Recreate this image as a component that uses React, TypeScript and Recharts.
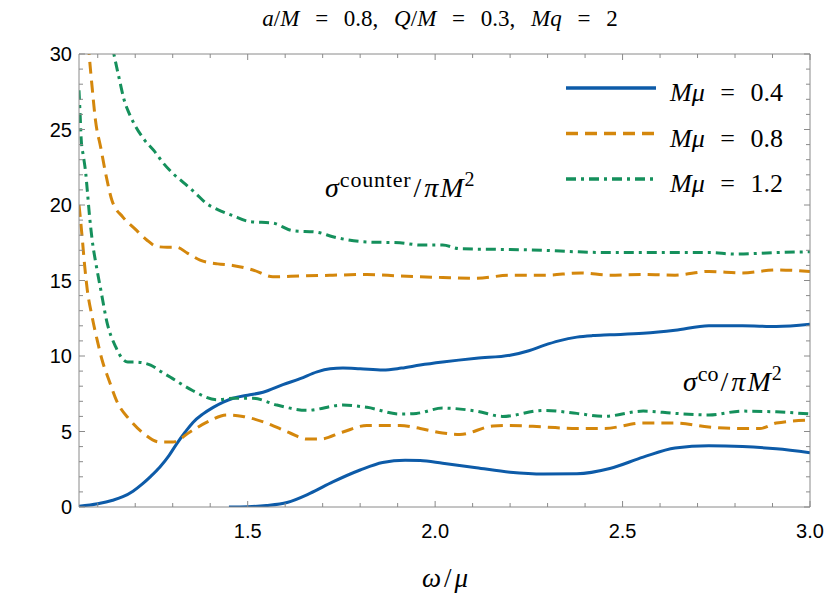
import { Line, LineChart, XAxis, YAxis } from "recharts";

// omega/mu grid and sigma/(pi M^2) values, one pair per curve
const W_COUNTER_04 = [1.05, 1.1, 1.14, 1.167, 1.194, 1.22, 1.24, 1.266, 1.29, 1.311, 1.333, 1.354, 1.38, 1.408, 1.435, 1.461, 1.5, 1.541, 1.594, 1.64, 1.685, 1.72, 1.754, 1.8, 1.861, 1.91, 1.96, 2.02, 2.11, 2.2, 2.25, 2.29, 2.33, 2.378, 2.42, 2.466, 2.555, 2.64, 2.73, 2.82, 2.91, 3.0];
const S_COUNTER_04 = [0.05, 0.22, 0.45, 0.68, 1.05, 1.55, 2.0, 2.65, 3.4, 4.2, 4.95, 5.6, 6.15, 6.6, 6.95, 7.2, 7.4, 7.6, 8.1, 8.5, 8.95, 9.15, 9.2, 9.15, 9.07, 9.2, 9.4, 9.6, 9.85, 10.05, 10.35, 10.7, 11.0, 11.25, 11.35, 11.4, 11.5, 11.7, 12.0, 12.0, 11.95, 12.1];

const W_CO_04 = [1.45, 1.5, 1.55, 1.605, 1.666, 1.727, 1.8, 1.86, 1.92, 1.96, 2.02, 2.11, 2.2, 2.29, 2.378, 2.466, 2.555, 2.64, 2.73, 2.82, 2.91, 3.0];
const S_CO_04 = [0, 0.02, 0.1, 0.3, 0.9, 1.66, 2.45, 2.95, 3.1, 3.08, 2.9, 2.6, 2.3, 2.18, 2.2, 2.55, 3.3, 3.9, 4.05, 4.0, 3.85, 3.6];

const W_COUNTER_08 = [1.071, 1.077, 1.085, 1.094, 1.108, 1.121, 1.138, 1.167, 1.2, 1.23, 1.258, 1.285, 1.31, 1.34, 1.373, 1.42, 1.46, 1.514, 1.567, 1.64, 1.727, 1.818, 1.906, 2.02, 2.11, 2.2, 2.29, 2.39, 2.466, 2.555, 2.64, 2.73, 2.82, 2.91, 3.0];
const S_COUNTER_08 = [32.0, 30, 27.8, 25.6, 23.8, 22.1, 20.3, 19.2, 18.4, 17.7, 17.25, 17.2, 17.2, 16.8, 16.35, 16.1, 16.0, 15.7, 15.25, 15.3, 15.35, 15.4, 15.3, 15.2, 15.15, 15.35, 15.35, 15.5, 15.35, 15.4, 15.35, 15.6, 15.5, 15.7, 15.6];

const W_CO_08 = [1.05, 1.053, 1.059, 1.065, 1.072, 1.085, 1.099, 1.112, 1.13, 1.151, 1.186, 1.221, 1.266, 1.3, 1.346, 1.39, 1.445, 1.487, 1.55, 1.613, 1.658, 1.693, 1.754, 1.818, 1.906, 1.96, 2.02, 2.066, 2.154, 2.2, 2.29, 2.378, 2.45, 2.555, 2.64, 2.73, 2.82, 2.866, 2.91, 3.0];
const S_CO_08 = [20.0, 19.3, 17.7, 16.0, 14.4, 12.6, 11.0, 9.7, 8.4, 7.0, 5.76, 4.9, 4.3, 4.3, 4.97, 5.6, 6.1, 6.0, 5.56, 4.9, 4.5, 4.5, 4.97, 5.4, 5.4, 5.2, 4.9, 4.8, 5.36, 5.4, 5.3, 5.2, 5.2, 5.56, 5.56, 5.3, 5.2, 5.2, 5.56, 5.76];

const W_COUNTER_12 = [1.135, 1.143, 1.157, 1.17, 1.185, 1.201, 1.225, 1.25, 1.274, 1.3, 1.328, 1.36, 1.39, 1.42, 1.46, 1.506, 1.567, 1.62, 1.685, 1.727, 1.818, 1.906, 1.96, 2.02, 2.066, 2.2, 2.29, 2.378, 2.466, 2.555, 2.64, 2.73, 2.8, 2.91, 3.0];
const S_COUNTER_12 = [31.0, 30, 28.4, 27.0, 26.0, 25.2, 24.3, 23.6, 22.8, 22.1, 21.5, 20.8, 20.1, 19.7, 19.3, 18.9, 18.8, 18.3, 18.2, 17.9, 17.55, 17.5, 17.35, 17.35, 17.1, 17.05, 17.0, 16.9, 16.85, 16.85, 16.85, 16.85, 16.75, 16.85, 16.9];

const W_CO_12 = [1.05, 1.053, 1.056, 1.062, 1.068, 1.072, 1.078, 1.085, 1.096, 1.108, 1.125, 1.148, 1.165, 1.18, 1.197, 1.22, 1.241, 1.27, 1.3, 1.354, 1.418, 1.46, 1.514, 1.578, 1.658, 1.754, 1.818, 1.906, 1.95, 2.02, 2.11, 2.18, 2.29, 2.378, 2.45, 2.555, 2.64, 2.73, 2.82, 2.91, 3.0];
const S_CO_12 = [27.6, 26.0, 24.3, 23.2, 22.1, 21.0, 19.3, 17.7, 16.0, 14.4, 12.2, 10.6, 9.85, 9.6, 9.6, 9.55, 9.4, 8.95, 8.5, 7.7, 7.1, 7.2, 7.2, 6.75, 6.4, 6.75, 6.6, 6.16, 6.2, 6.55, 6.35, 6.0, 6.4, 6.2, 6.0, 6.35, 6.2, 6.1, 6.35, 6.3, 6.16];

const MASS_LABELS = ["0.4", "0.8", "1.2"];

const X_TICKS = [1.1, 1.2, 1.3, 1.4, 1.5, 1.6, 1.7, 1.8, 1.9, 2.0, 2.1, 2.2, 2.3, 2.4, 2.5, 2.6, 2.7, 2.8, 2.9, 3.0];
const X_LABELED = [1.5, 2.0, 2.5, 3.0];
const Y_TICKS = [0, 1, 2, 3, 4, 5, 6, 7, 8, 9, 10, 11, 12, 13, 14, 15, 16, 17, 18, 19, 20, 21, 22, 23, 24, 25, 26, 27, 28, 29, 30];
const Y_LABELED = [0, 5, 10, 15, 20, 25, 30];

const BLUE = "#0d5ba8";
const ORANGE = "#d4870c";
const GREEN = "#15905c";
const AXIS = "#8a8a8a";
const SERIF = "'Liberation Serif', 'Times New Roman', serif";
const SANS = "'Liberation Sans', Arial, sans-serif";

const zip = (xs: number[], ys: number[]) => xs.map((x, i) => ({ x, y: ys[i] }));

const STYLES = [
  { color: BLUE, dash: undefined },
  { color: ORANGE, dash: "12 7" },
  { color: GREEN, dash: "10 5 3 5" },
];

const CURVES = [
  { key: "c04", data: zip(W_COUNTER_04, S_COUNTER_04), style: 0 },
  { key: "o04", data: zip(W_CO_04, S_CO_04), style: 0 },
  { key: "c08", data: zip(W_COUNTER_08, S_COUNTER_08), style: 1 },
  { key: "o08", data: zip(W_CO_08, S_CO_08), style: 1 },
  { key: "c12", data: zip(W_COUNTER_12, S_COUNTER_12), style: 2 },
  { key: "o12", data: zip(W_CO_12, S_CO_12), style: 2 },
];

function BottomTick({ x, y, payload }: any) {
  const major = X_LABELED.includes(payload.value);
  return (
    <g>
      <line x1={x} x2={x} y1={y} y2={y - (major ? 6 : 4)} stroke={AXIS} />
      {major && (
        <text x={x} y={y + 31} textAnchor="middle" fontFamily={SANS} fontSize={20} fill="#000">
          {payload.value.toFixed(1)}
        </text>
      )}
    </g>
  );
}

function TopTick({ x, y, payload }: any) {
  const major = X_LABELED.includes(payload.value);
  return <line x1={x} x2={x} y1={y} y2={y + (major ? 6 : 4)} stroke={AXIS} />;
}

function LeftTick({ x, y, payload }: any) {
  const major = Y_LABELED.includes(payload.value);
  return (
    <g>
      <line x1={x} x2={x + (major ? 6 : 4)} y1={y} y2={y} stroke={AXIS} />
      {major && (
        <text x={x - 7} y={y + 7} textAnchor="end" fontFamily={SANS} fontSize={20} fill="#000">
          {payload.value}
        </text>
      )}
    </g>
  );
}

function RightTick({ x, y, payload }: any) {
  const major = Y_LABELED.includes(payload.value);
  return <line x1={x} x2={x - (major ? 6 : 4)} y1={y} y2={y} stroke={AXIS} />;
}

export default function App() {
  return (
    <div style={{ position: "absolute", left: 0, top: 0, width: 830, height: 605, background: "#fff" }}>
      <LineChart width={830} height={605} margin={{ top: 53, right: 19, bottom: 97, left: 78 }}>
        <XAxis
          xAxisId="bottom"
          dataKey="x"
          type="number"
          domain={[1.05, 3.0]}
          allowDataOverflow
          ticks={X_TICKS}
          interval={0}
          height={1}
          tickSize={0}
          tickMargin={0}
          tickLine={false}
          axisLine={{ stroke: AXIS }}
          tick={<BottomTick />}
        />
        <XAxis
          xAxisId="top"
          orientation="top"
          dataKey="x"
          type="number"
          domain={[1.05, 3.0]}
          allowDataOverflow
          ticks={X_TICKS}
          interval={0}
          height={1}
          tickSize={0}
          tickMargin={0}
          tickLine={false}
          axisLine={{ stroke: AXIS }}
          tick={<TopTick />}
        />
        <YAxis
          yAxisId="left"
          type="number"
          domain={[0, 30]}
          allowDataOverflow
          ticks={Y_TICKS}
          interval={0}
          width={1}
          tickSize={0}
          tickMargin={0}
          tickLine={false}
          axisLine={{ stroke: AXIS }}
          tick={<LeftTick />}
        />
        <YAxis
          yAxisId="right"
          orientation="right"
          type="number"
          domain={[0, 30]}
          allowDataOverflow
          ticks={Y_TICKS}
          interval={0}
          width={1}
          tickSize={0}
          tickMargin={0}
          tickLine={false}
          axisLine={{ stroke: AXIS }}
          tick={<RightTick />}
        />
        {CURVES.map((c) => (
          <Line
            key={c.key}
            xAxisId="bottom"
            yAxisId="left"
            data={c.data}
            dataKey="y"
            type="monotone"
            stroke={STYLES[c.style].color}
            strokeDasharray={STYLES[c.style].dash}
            strokeWidth={3}
            dot={false}
            activeDot={false}
            isAnimationActive={false}
          />
        ))}
      </LineChart>

      {/* title, legend and curve labels */}
      <svg width={830} height={605} style={{ position: "absolute", left: 0, top: 0, pointerEvents: "none" }}>
        <text x={440} y={26} textAnchor="middle" fontFamily={SERIF} fontSize={23} style={{ wordSpacing: 10 }}>
          <tspan fontStyle="italic">a</tspan>/<tspan fontStyle="italic">M</tspan> = 0.8,{" "}
          <tspan fontStyle="italic">Q</tspan>/<tspan fontStyle="italic">M</tspan> = 0.3,{" "}
          <tspan fontStyle="italic">Mq</tspan> = 2
        </text>

        {MASS_LABELS.map((m, i) => {
          const y = 88 + i * 45.5;
          return (
            <g key={m}>
              <line x1={566} x2={656} y1={y} y2={y} stroke={STYLES[i].color} strokeWidth={3.5} strokeDasharray={STYLES[i].dash} />
              <text x={670} y={y + 13} fontFamily={SERIF} fontSize={26} style={{ wordSpacing: 9 }}>
                <tspan fontStyle="italic">Mμ</tspan> = {m}
              </text>
            </g>
          );
        })}

        <text x={325} y={197} fontFamily={SERIF} fontSize={28}>
          <tspan fontStyle="italic">σ</tspan>
          <tspan dx={1} dy={-10} fontSize={22} letterSpacing={0.8}>counter</tspan>
          <tspan dx={2} dy={10}>/</tspan>
          <tspan dx={3} fontStyle="italic">π</tspan>
          <tspan dx={2} fontStyle="italic">M</tspan>
          <tspan dx={1} dy={-11} fontSize={20}>2</tspan>
        </text>

        <text x={683} y={391} fontFamily={SERIF} fontSize={28}>
          <tspan fontStyle="italic">σ</tspan>
          <tspan dx={1} dy={-10} fontSize={22}>co</tspan>
          <tspan dx={2} dy={10}>/</tspan>
          <tspan dx={3} fontStyle="italic">π</tspan>
          <tspan dx={2} fontStyle="italic">M</tspan>
          <tspan dx={1} dy={-11} fontSize={20}>2</tspan>
        </text>

        <text x={422} y={587} fontFamily={SERIF} fontSize={27}>
          <tspan fontStyle="italic">ω</tspan>
          <tspan dx={3}>/</tspan>
          <tspan dx={3} fontStyle="italic">μ</tspan>
        </text>
      </svg>
    </div>
  );
}
